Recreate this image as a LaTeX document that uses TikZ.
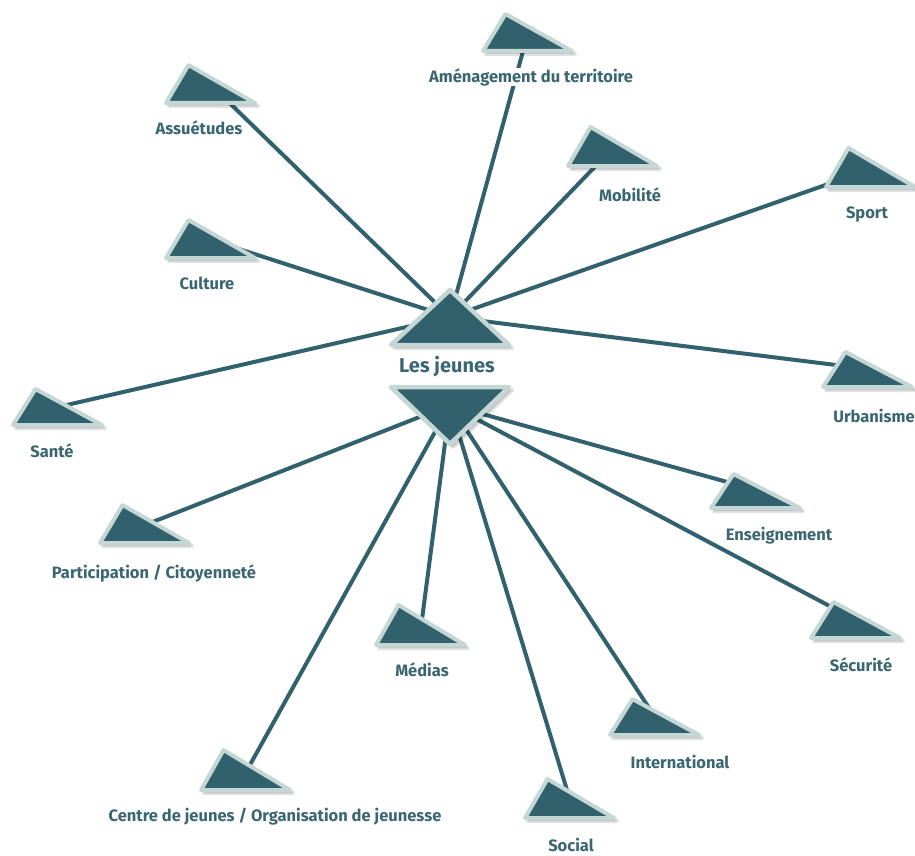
\documentclass[tikz,border=0pt]{standalone}
\usepackage{fontspec}
\setmainfont{Fira Sans}
\definecolor{tealf}{HTML}{32616E}
\definecolor{bordc}{HTML}{C4D7D4}
\definecolor{textc}{HTML}{3A6672}
\pgfdeclarelayer{bg}
\pgfsetlayers{bg,main}
\tikzset{
  tri/.style={fill=tealf, draw=bordc, line width=4pt, line join=round},
  trishadow/.style={fill=black, draw=black, line width=4pt, line join=round, opacity=0.12},
  conn/.style={draw=tealf, line width=4pt},
  lbl/.style={fill=white, text=textc, font=\bfseries\fontsize{16.5}{19}\selectfont, inner sep=0.5pt},
  centrelbl/.style={text=textc, font=\bfseries\fontsize{20}{23}\selectfont, inner sep=1pt}
}
\newcommand\satnode[7]{%
  \coordinate (#1) at ({#2+23},{#4-20});
  \path[trishadow] ({#2+3.5},{#3+5}) -- ({#2-19},{#4+1}) -- ({#2+70},{#4+1}) -- cycle;
  \path[tri] ({#2+0.5},{#3+2}) -- ({#2-22},{#4-2}) -- ({#2+67},{#4-2}) -- cycle;
  \node[lbl] (#1-l) at (#5,#6) {#7};
}
\begin{document}
\begin{tikzpicture}[x=1pt,y=-1pt]
\useasboundingbox (0,0) rectangle (915,856);
% centre
\coordinate (cup) at (450,317);
\coordinate (cdown) at (450,405);
\path[trishadow] (453,293) -- (394,348) -- (512,348) -- cycle;
\path[tri, line width=4.5pt] (450,290) -- (391,345) -- (509,345) -- cycle;
\path[trishadow] (394,390) -- (512,390) -- (453,447) -- cycle;
\path[tri, line width=4.5pt] (391,387) -- (509,387) -- (450,444) -- cycle;
\node[centrelbl] (centre) at (447,367) {Les jeunes};
% satellites
\satnode{amen}{505}{12}{53}{531}{77}{Aménagement du territoire}
\satnode{assu}{188}{63}{105}{199}{128}{Assuétudes}
\satnode{mobi}{590}{125}{168}{630}{195}{Mobilité}
\satnode{sport}{848}{146}{189}{867}{214}{Sport}
\satnode{cult}{188}{218}{260}{207}{283}{Culture}
\satnode{urba}{845}{350}{389}{874}{416}{Urbanisme}
\satnode{sante}{35}{387}{427}{52}{451}{Santé}
\satnode{parti}{122}{503}{545}{154}{573}{Participation / Citoyenneté}
\satnode{ensei}{733}{472}{510}{779}{536}{Enseignement}
\satnode{secu}{833}{600}{640}{861}{665}{Sécurité}
\satnode{medias}{398}{603}{647}{422}{670}{Médias}
\satnode{inter}{632}{697}{737}{680}{762}{International}
\satnode{cdj}{223}{748}{792}{275}{817}{Centre de jeunes / Organisation de jeunesse}
\satnode{social}{547}{777}{820}{571}{845}{Social}
\begin{pgfonlayer}{bg}
  \foreach \s in {amen,assu,mobi,sport,cult,urba,sante}
    \draw[conn] (\s) -- (cup);
  \foreach \s in {parti,ensei,secu,medias,inter,cdj,social}
    \draw[conn] (\s) -- (cdown);
\end{pgfonlayer}
\end{tikzpicture}
\end{document}
